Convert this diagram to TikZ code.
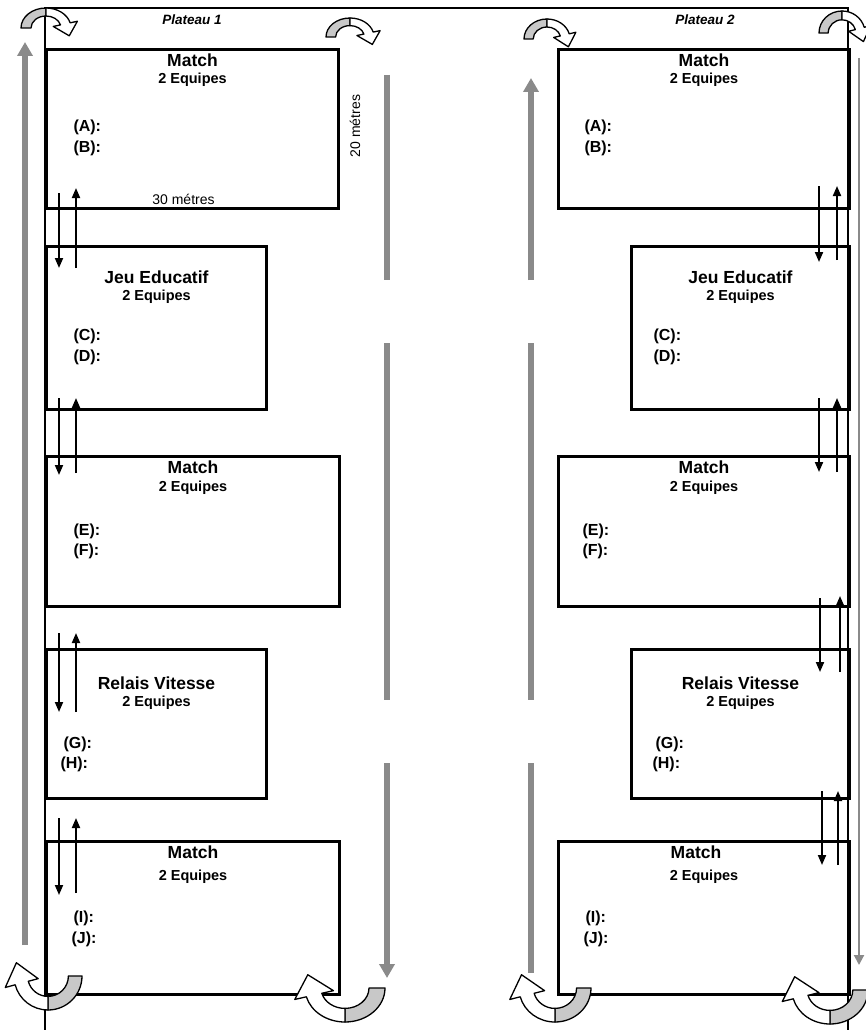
\documentclass[tikz,border=0pt]{standalone}
\usepackage{fontspec}
\setmainfont{Liberation Sans}
\usepackage{xcolor}
\usetikzlibrary{arrows.meta, positioning, calc}

\definecolor{lanegray}{HTML}{8A8A8A}
\definecolor{turngray}{HTML}{C8C8C8}

\tikzset{
    uturn/.pic={
        \filldraw[fill=turngray, line width=1.3pt, line join=round]
            (180:1) arc (180:90:1) -- (90:0.6) arc (90:180:0.6) -- cycle;
        \filldraw[fill=white, line width=1.3pt, line join=round]
            (90:1) arc (90:15:1) -- (15:1.3) -- (0.93,-0.39) -- (15:0.3) -- (15:0.6) arc (15:90:0.6) -- cycle;
    }
}

\begin{document}
\begin{tikzpicture}[
    x=1pt, y=1pt,
    field/.style={draw, line width=3pt, anchor=north west, inner sep=0pt},
    boxtitle/.style={font=\bfseries\fontsize{17.5}{20}\selectfont},
    teams/.style={font=\bfseries\fontsize{14.5}{17}\selectfont},
    slot/.style={font=\bfseries\fontsize{16}{19}\selectfont, anchor=west},
    plateau/.style={font=\bfseries\itshape\fontsize{13.5}{16}\selectfont},
    measure/.style={font=\fontsize{14}{17}\selectfont},
    fieldline/.style={line width=2pt},
    lane/.style={draw=lanegray, line width=6pt},
    lanetip/.style={-{Triangle[width=15pt,length=14pt]}},
    walk/.style={line width=1.9pt, -{Triangle[width=8pt,length=10pt]}}
]
    \useasboundingbox (0,0) rectangle (865,-1030);

    % Outer lines of both plateaus
    \draw[fieldline] (45,-1030) -- (45,-8) -- (848,-8) -- (848,-1030);
    \node[plateau] (plat1) at (192,-20) {Plateau 1};
    \node[plateau] (plat2) at (705,-20) {Plateau 2};

    % Plateau 1 - Match (A)-(B)
    \node[field, minimum width=292pt, minimum height=159pt] (matchA) at (45,-48) {};
    \node[boxtitle] (matchAt) at ($(matchA.north)+(0,-12)$) {Match};
    \node[teams] (matchAe) at ($(matchA.north)+(0,-32)$) {2 Equipes};
    \node[slot] (slotA) at ($(matchA.north west)+(25,-79)$) {(A):};
    \node[slot] (slotB) at ($(matchA.north west)+(25,-100)$) {(B):};
    \node[measure] (width30) at ($(matchA.south)+(-9,11)$) {30 métres};
    \node[measure, rotate=90] (length20) at ($(matchA.north east)+(15,-78)$) {20 métres};

    % Plateau 1 - Jeu Educatif (C)-(D)
    \node[field, minimum width=220pt, minimum height=163pt] (jeuA) at (45,-245) {};
    \node[boxtitle] (jeuAt) at ($(jeuA.north)+(0,-32)$) {Jeu Educatif};
    \node[teams] (jeuAe) at ($(jeuA.north)+(0,-52)$) {2 Equipes};
    \node[slot] (slotC) at ($(jeuA.north west)+(25,-91)$) {(C):};
    \node[slot] (slotD) at ($(jeuA.north west)+(25,-112)$) {(D):};

    % Plateau 1 - Match (E)-(F)
    \node[field, minimum width=293pt, minimum height=150pt] (matchB) at (45,-455) {};
    \node[boxtitle] (matchBt) at ($(matchB.north)+(0,-12)$) {Match};
    \node[teams] (matchBe) at ($(matchB.north)+(0,-33)$) {2 Equipes};
    \node[slot] (slotE) at ($(matchB.north west)+(25,-76)$) {(E):};
    \node[slot] (slotF) at ($(matchB.north west)+(25,-96)$) {(F):};

    % Plateau 1 - Relais Vitesse (G)-(H)
    \node[field, minimum width=220pt, minimum height=149pt] (relaisA) at (45,-648) {};
    \node[boxtitle] (relaisAt) at ($(relaisA.north)+(0,-35)$) {Relais Vitesse};
    \node[teams] (relaisAe) at ($(relaisA.north)+(0,-55)$) {2 Equipes};
    \node[slot] (slotG) at ($(relaisA.north west)+(15,-96)$) {(G):};
    \node[slot] (slotH) at ($(relaisA.north west)+(12,-116)$) {(H):};

    % Plateau 1 - Match (I)-(J)
    \node[field, minimum width=293pt, minimum height=153pt] (matchC) at (45,-840) {};
    \node[boxtitle] (matchCt) at ($(matchC.north)+(0,-12)$) {Match};
    \node[teams] (matchCe) at ($(matchC.north)+(0,-37)$) {2 Equipes};
    \node[slot] (slotI) at ($(matchC.north west)+(25,-78)$) {(I):};
    \node[slot] (slotJ) at ($(matchC.north west)+(23,-99)$) {(J):};

    % Plateau 2 - Match (A)-(B)
    \node[field, minimum width=291pt, minimum height=159pt] (matchD) at (557,-48) {};
    \node[boxtitle] (matchDt) at ($(matchD.north)+(0,-12)$) {Match};
    \node[teams] (matchDe) at ($(matchD.north)+(0,-32)$) {2 Equipes};
    \node[slot] (slotA2) at ($(matchD.north west)+(24,-79)$) {(A):};
    \node[slot] (slotB2) at ($(matchD.north west)+(24,-100)$) {(B):};

    % Plateau 2 - Jeu Educatif (C)-(D)
    \node[field, minimum width=218pt, minimum height=163pt] (jeuB) at (630,-245) {};
    \node[boxtitle] (jeuBt) at ($(jeuB.north)+(0,-32)$) {Jeu Educatif};
    \node[teams] (jeuBe) at ($(jeuB.north)+(0,-52)$) {2 Equipes};
    \node[slot] (slotC2) at ($(jeuB.north west)+(20,-91)$) {(C):};
    \node[slot] (slotD2) at ($(jeuB.north west)+(20,-112)$) {(D):};

    % Plateau 2 - Match (E)-(F)
    \node[field, minimum width=291pt, minimum height=150pt] (matchE) at (557,-455) {};
    \node[boxtitle] (matchEt) at ($(matchE.north)+(0,-12)$) {Match};
    \node[teams] (matchEe) at ($(matchE.north)+(0,-33)$) {2 Equipes};
    \node[slot] (slotE2) at ($(matchE.north west)+(22,-76)$) {(E):};
    \node[slot] (slotF2) at ($(matchE.north west)+(22,-96)$) {(F):};

    % Plateau 2 - Relais Vitesse (G)-(H)
    \node[field, minimum width=218pt, minimum height=149pt] (relaisB) at (630,-648) {};
    \node[boxtitle] (relaisBt) at ($(relaisB.north)+(0,-35)$) {Relais Vitesse};
    \node[teams] (relaisBe) at ($(relaisB.north)+(0,-55)$) {2 Equipes};
    \node[slot] (slotG2) at ($(relaisB.north west)+(22,-96)$) {(G):};
    \node[slot] (slotH2) at ($(relaisB.north west)+(19,-116)$) {(H):};

    % Plateau 2 - Match (I)-(J)
    \node[field, minimum width=291pt, minimum height=153pt] (matchF) at (557,-840) {};
    \node[boxtitle] (matchFt) at ($(matchF.north)+(-8,-12)$) {Match};
    \node[teams] (matchFe) at ($(matchF.north)+(0,-37)$) {2 Equipes};
    \node[slot] (slotI2) at ($(matchF.north west)+(25,-78)$) {(I):};
    \node[slot] (slotJ2) at ($(matchF.north west)+(23,-99)$) {(J):};

    % Plateau 1 - going out and back between the boxes
    \draw[walk] ($(matchA.south west)+(14,17)$) -- ($(jeuA.north west)+(14,-23)$);
    \draw[walk] ($(jeuA.north west)+(31,-23)$) -- ($(matchA.south west)+(31,22)$);
    \draw[walk] ($(jeuA.south west)+(14,13)$) -- ($(matchB.north west)+(14,-20)$);
    \draw[walk] ($(matchB.north west)+(31,-18)$) -- ($(jeuA.south west)+(31,13)$);
    \draw[walk] ($(matchB.south west)+(14,-25)$) -- ($(relaisA.north west)+(14,-64)$);
    \draw[walk] ($(relaisA.north west)+(31,-64)$) -- ($(matchB.south west)+(31,-25)$);
    \draw[walk] ($(relaisA.south west)+(14,-18)$) -- ($(matchC.north west)+(14,-55)$);
    \draw[walk] ($(matchC.north west)+(31,-53)$) -- ($(relaisA.south west)+(31,-18)$);

    % Plateau 2 - going out and back between the boxes
    \draw[walk] ($(matchD.south east)+(-32,24)$) -- ($(jeuB.north east)+(-32,-17)$);
    \draw[walk] ($(jeuB.north east)+(-14,-15)$) -- ($(matchD.south east)+(-14,24)$);
    \draw[walk] ($(jeuB.south east)+(-32,13)$) -- ($(matchE.north east)+(-32,-17)$);
    \draw[walk] ($(matchE.north east)+(-14,-17)$) -- ($(jeuB.south east)+(-14,13)$);
    \draw[walk] ($(matchE.south east)+(-31,10)$) -- ($(relaisB.north east)+(-31,-24)$);
    \draw[walk] ($(relaisB.north east)+(-11,-24)$) -- ($(matchE.south east)+(-11,12)$);
    \draw[walk] ($(relaisB.south east)+(-29,9)$) -- ($(matchF.north east)+(-29,-25)$);
    \draw[walk] ($(matchF.north east)+(-13,-25)$) -- ($(relaisB.south east)+(-13,9)$);

    % Running lanes
    \draw[lane, lanetip] (25,-945) -- (25,-42);
    \draw[lane] (387,-75) -- (387,-280);
    \draw[lane] (387,-343) -- (387,-700);
    \draw[lane, lanetip] (387,-763) -- (387,-978);
    \draw[lane, lanetip] (531,-280) -- (531,-78);
    \draw[lane] (531,-343) -- (531,-700);
    \draw[lane] (531,-763) -- (531,-973);
    \draw[draw=lanegray, line width=2pt, -{Triangle[width=10pt,length=10pt]}] (859,-58) -- (859,-965);

    % Turns at the corners
    \pic[xscale=25, yscale=20] at (46,-28) {uturn};
    \pic[xscale=24, yscale=19] at (350,-37) {uturn};
    \pic[xscale=23, yscale=20] at (547,-39) {uturn};
    \pic[xscale=23, yscale=22] at (842,-33) {uturn};
    \pic[rotate=180, xscale=34, yscale=34] at (48,-976) {uturn};
    \pic[rotate=180, xscale=40, yscale=34] at (345,-988) {uturn};
    \pic[rotate=180, xscale=36, yscale=34] at (555,-988) {uturn};
    \pic[rotate=180, xscale=38, yscale=34] at (830,-990) {uturn};
\end{tikzpicture}
\end{document}
